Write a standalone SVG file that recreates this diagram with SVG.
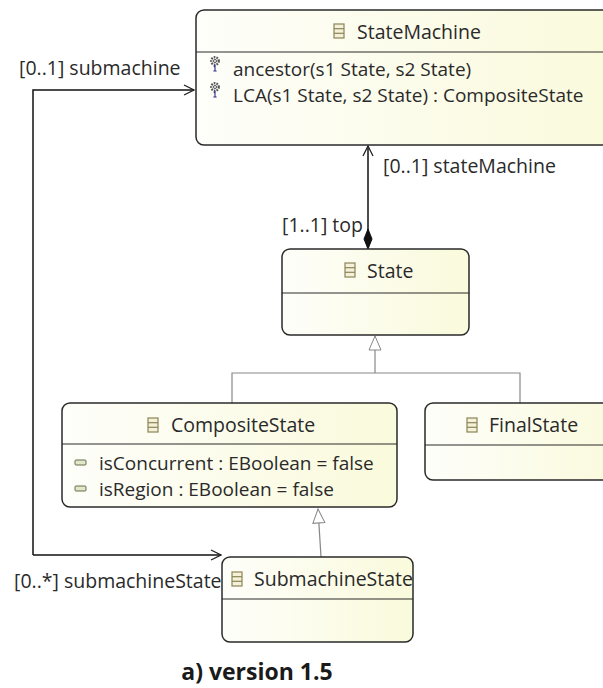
<svg xmlns="http://www.w3.org/2000/svg" width="603" height="688" viewBox="0 0 603 688">
<defs>
<linearGradient id="fill" x1="0" y1="0" x2="1" y2="0">
<stop offset="0" stop-color="#fefefa"/>
<stop offset="1" stop-color="#fafadc"/>
</linearGradient>
<marker id="open" viewBox="0 0 12 12" refX="11" refY="6" markerWidth="12" markerHeight="12" markerUnits="userSpaceOnUse" orient="auto">
<path d="M1,1 L11,6 L1,11" fill="none" stroke="#222" stroke-width="1.3"/>
</marker>
<marker id="diamond" viewBox="0 0 22 10" refX="1" refY="5" markerWidth="22" markerHeight="10" markerUnits="userSpaceOnUse" orient="auto">
<path d="M1,5 L11,1 L21,5 L11,9 Z" fill="#111" stroke="#111"/>
</marker>
<marker id="tri" viewBox="0 0 16 14" refX="15" refY="7" markerWidth="16" markerHeight="14" markerUnits="userSpaceOnUse" orient="auto">
<path d="M1,1 L15,7 L1,13 Z" fill="#fff" stroke="#888" stroke-width="1"/>
</marker>
<g id="clsicon">
<rect x="0" y="0" width="10" height="14" fill="#f4f1d8" stroke="#8a8458" stroke-width="1.2"/>
<line x1="0" y1="4.7" x2="10" y2="4.7" stroke="#8a8458" stroke-width="1.2"/>
<line x1="0" y1="9.3" x2="10" y2="9.3" stroke="#8a8458" stroke-width="1.2"/>
</g>
<g id="opicon">
<circle cx="5" cy="5" r="3.8" fill="#eee" stroke="#555" stroke-width="2.2" stroke-dasharray="1.6 1.1"/>
<circle cx="5" cy="5" r="1.5" fill="#fff" stroke="#444" stroke-width="0.9"/>
<path d="M3.8,10.8 L5,10 L5,15 M3.4,15 L6.6,15" fill="none" stroke="#2a2a8a" stroke-width="1.1"/>
</g>
<g id="attricon">
<rect x="0" y="0" width="11" height="5" rx="1" fill="#dfe8c8" stroke="#6a6a4a" stroke-width="1"/>
</g>
</defs>
<style>
.box{fill:url(#fill);stroke:#2a2a2a;stroke-width:1.5}
.div{stroke:#2a2a2a;stroke-width:1.2}
.t{font-family:"Open Sans","Noto Sans",sans-serif;font-size:19.5px;fill:#2a2a2a}
.m{font-family:"Open Sans","Noto Sans",sans-serif;font-size:19px;fill:#2a2a2a}
.lbl{font-family:"Open Sans","Noto Sans",sans-serif;font-size:19.5px;fill:#2a2a2a}
.assoc{fill:none;stroke:#111;stroke-width:1.5}
.gen{fill:none;stroke:#888;stroke-width:1.2}
.cap{font-family:"Open Sans","Noto Sans",sans-serif;font-size:23px;font-weight:bold;fill:#1a1a1a}
</style>
<rect x="0" y="0" width="603" height="688" fill="#fff"/>

<g id="connectors">
<path class="assoc" d="M33,555 L33,90 L194,90" marker-end="url(#open)"/>
<path class="assoc" d="M33,555 L221,555" marker-end="url(#open)"/>
<path class="assoc" d="M368,249 L368,146" marker-start="url(#diamond)" marker-end="url(#open)"/>
<path class="gen" d="M232,403 L232,373 L520,373 L520,403"/>
<path class="gen" d="M375,373 L375,336" marker-end="url(#tri)"/>
<path class="gen" d="M321,557 L318,509" marker-end="url(#tri)"/>
<text class="lbl" x="19" y="75">[0..1] submachine</text>
<text class="lbl" x="14" y="588">[0..*] submachineState</text>
<text class="lbl" x="383" y="173">[0..1] stateMachine</text>
<text class="lbl" x="282" y="232">[1..1] top</text>
</g>

<g id="StateMachine">
<rect class="box" x="196" y="10" width="420" height="135" rx="8"/>
<line class="div" x1="196" y1="52" x2="603" y2="52"/>
<use href="#clsicon" x="334" y="24"/>
<text class="t" x="357" y="39">StateMachine</text>
<use href="#opicon" x="210" y="56"/>
<text class="m" x="233" y="76">ancestor(s1 State, s2 State)</text>
<use href="#opicon" x="210" y="82"/>
<text class="m" x="233" y="102">LCA(s1 State, s2 State) : CompositeState</text>
</g>

<g id="State">
<rect class="box" x="282" y="249" width="187" height="86" rx="8"/>
<line class="div" x1="282" y1="293" x2="469" y2="293"/>
<use href="#clsicon" x="345" y="263"/>
<text class="t" x="367" y="278">State</text>
</g>

<g id="CompositeState">
<rect class="box" x="62" y="403" width="335" height="104" rx="8"/>
<line class="div" x1="62" y1="444" x2="397" y2="444"/>
<use href="#clsicon" x="148" y="418"/>
<text class="t" x="171" y="432">CompositeState</text>
<use href="#attricon" x="75" y="460"/>
<text class="m" x="99" y="470">isConcurrent : EBoolean = false</text>
<use href="#attricon" x="75" y="486"/>
<text class="m" x="99" y="496">isRegion : EBoolean = false</text>
</g>

<g id="FinalState">
<rect class="box" x="425" y="403" width="200" height="77" rx="8"/>
<line class="div" x1="425" y1="445" x2="603" y2="445"/>
<use href="#clsicon" x="467" y="418"/>
<text class="t" x="489" y="432">FinalState</text>
</g>

<g id="SubmachineState">
<rect class="box" x="222" y="557" width="191" height="85" rx="8"/>
<line class="div" x1="222" y1="599" x2="413" y2="599"/>
<use href="#clsicon" x="232" y="572"/>
<text class="t" x="254" y="586">SubmachineState</text>
</g>

<text class="cap" x="257" y="680" text-anchor="middle">a) version 1.5</text>
</svg>
